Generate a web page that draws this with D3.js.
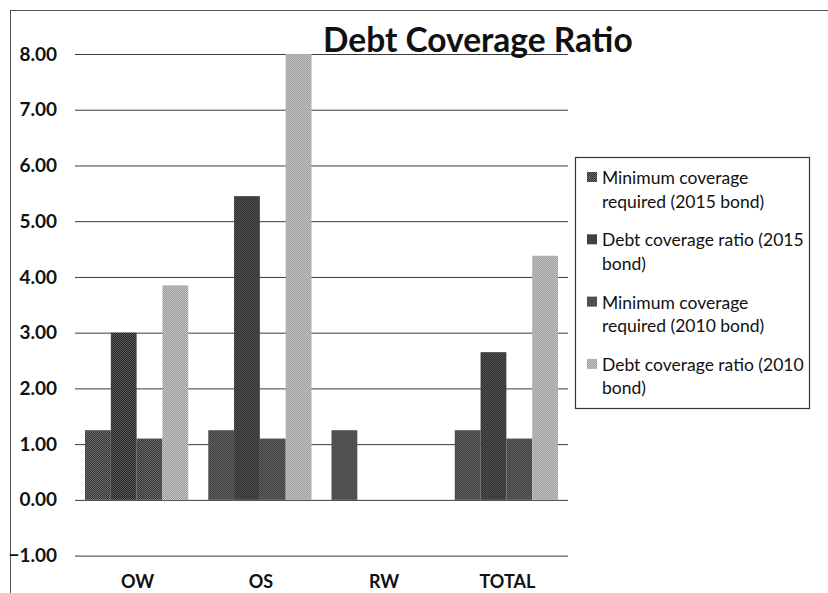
<!DOCTYPE html>
<html>
<head>
<meta charset="utf-8">
<script src="https://cdn.jsdelivr.net/npm/d3@7"></script>
<style>
  body { margin: 0; background: #fff; }
  svg { display: block; font-family: Lato, "Open Sans", sans-serif; }
</style>
</head>
<body>
<div class="chart"></div>
<script>
// data
var categories = ["OW", "OS", "RW", "TOTAL"];
var seriesNames = [
  "Minimum coverage required (2015 bond)",
  "Debt coverage ratio (2015 bond)",
  "Minimum coverage required (2010 bond)",
  "Debt coverage ratio (2010 bond)"
];
var minCov2015 = [1.25, 1.25, 1.25, 1.25];
var dcr2015 = [3.0, 5.45, 0, 2.65];
var minCov2010 = [1.1, 1.1, 0, 1.1];
var dcr2010 = [3.85, 8.0, 0, 4.38];
var yTicks = [-1, 0, 1, 2, 3, 4, 5, 6, 7, 8];

var legendLines = [
  ["Minimum coverage", "required (2015 bond)"],
  ["Debt coverage ratio (2015", "bond)"],
  ["Minimum coverage", "required (2010 bond)"],
  ["Debt coverage ratio (2010", "bond)"]
];

var allSeries = [minCov2015, dcr2015, minCov2010, dcr2010];

var svgWidth = 828;
var svgHeight = 593;

var svg = d3.select(".chart")
  .append("svg")
  .attr("width", svgWidth)
  .attr("height", svgHeight);

// dithered fills, like the scanned original
var defs = svg.append("defs");
var patColors = [["#353535", "#6a6a6a"], ["#262626", "#5a5a5a"], ["#353535", "#6a6a6a"], ["#9a9a9a", "#c6c6c6"]];
patColors.forEach(function(c, i) {
  var p = defs.append("pattern")
    .attr("id", "pat" + i)
    .attr("width", 2).attr("height", 2)
    .attr("patternUnits", "userSpaceOnUse");
  p.append("rect").attr("width", 2).attr("height", 2).attr("fill", c[1]);
  p.append("rect").attr("width", 1).attr("height", 1).attr("fill", c[0]);
  p.append("rect").attr("x", 1).attr("y", 1).attr("width", 1).attr("height", 1).attr("fill", c[0]);
});

// outer frame (top and left edges visible)
svg.append("line").attr("x1", 10).attr("x2", 828).attr("y1", 10.5).attr("y2", 10.5)
  .attr("stroke", "#555").attr("stroke-width", 1);
svg.append("line").attr("x1", 10.5).attr("x2", 10.5).attr("y1", 10).attr("y2", 593)
  .attr("stroke", "#555").attr("stroke-width", 1);

// scales
var y = d3.scaleLinear().domain([-1, 8]).range([555.6, 54]);
var x0 = d3.scaleBand().domain(categories).range([75, 568]).padding(0);
var gap = 20;
var x1 = d3.scaleBand().domain(d3.range(4)).range([gap / 2, x0.bandwidth() - gap / 2]).padding(0);

// gridlines
var grid = d3.axisLeft(y).tickValues(yTicks).tickSize(-(568 - 75)).tickFormat("");
svg.append("g")
  .attr("transform", "translate(75,0)")
  .call(grid)
  .call(function(g) {
    g.select(".domain").remove();
    g.selectAll("line").attr("stroke", "#3a3a3a").attr("stroke-width", 1);
  });

// y tick labels
var yAxis = d3.axisLeft(y).tickValues(yTicks).tickSize(0).tickPadding(0).tickFormat(d3.format(".2f"));
svg.append("g")
  .attr("transform", "translate(57,0)")
  .call(yAxis)
  .call(function(g) {
    g.select(".domain").remove();
    g.selectAll("text")
      .attr("font-family", "Lato, sans-serif")
      .attr("font-size", "19px")
      .attr("font-weight", "bold")
      .attr("fill", "#111");
  });

// bars
var groups = svg.append("g").selectAll("g")
  .data(categories)
  .enter().append("g")
  .attr("transform", d => `translate(${x0(d)},0)`);

groups.selectAll("rect")
  .data((d, ci) => allSeries.map((s, si) => ({ si: si, v: s[ci] })))
  .enter().append("rect")
  .attr("x", d => x1(d.si))
  .attr("width", x1.bandwidth())
  .attr("y", d => y(Math.max(0, d.v)))
  .attr("height", d => Math.abs(y(d.v) - y(0)))
  .attr("fill", d => `url(#pat${d.si})`);

// category labels
svg.append("g").selectAll("text")
  .data(categories)
  .enter().append("text")
  .attr("x", d => x0(d) + x0.bandwidth() / 2 + 1)
  .attr("y", 588)
  .attr("text-anchor", "middle")
  .attr("font-size", "18px")
  .attr("font-weight", "bold")
  .attr("fill", "#111")
  .text(d => d);

// title
svg.append("text")
  .attr("x", 323)
  .attr("y", 52)
  .attr("font-size", "33.5px")
  .attr("font-weight", "bold")
  .attr("fill", "#111")
  .text("Debt Coverage Ratio");

// legend
var legend = svg.append("g");
legend.append("rect")
  .attr("x", 575.5).attr("y", 157.5)
  .attr("width", 234).attr("height", 251)
  .attr("fill", "#fff")
  .attr("stroke", "#333")
  .attr("stroke-width", 1.2);

var items = legend.selectAll("g.item")
  .data(seriesNames)
  .enter().append("g")
  .attr("class", "item")
  .attr("transform", (d, i) => `translate(0,${178 + i * 62.3})`);

items.append("rect")
  .attr("x", 587).attr("y", -6)
  .attr("width", 10).attr("height", 10)
  .attr("fill", (d, i) => `url(#pat${i})`);

items.append("text")
  .attr("x", 602)
  .attr("y", 6)
  .attr("font-size", "17.5px")
  .attr("fill", "#111")
  .each(function(d, i) {
    var t = d3.select(this);
    legendLines[i].forEach(function(line, li) {
      t.append("tspan").attr("x", 602).attr("dy", li === 0 ? 0 : 23.5).text(line);
    });
  });
</script>
</body>
</html>
